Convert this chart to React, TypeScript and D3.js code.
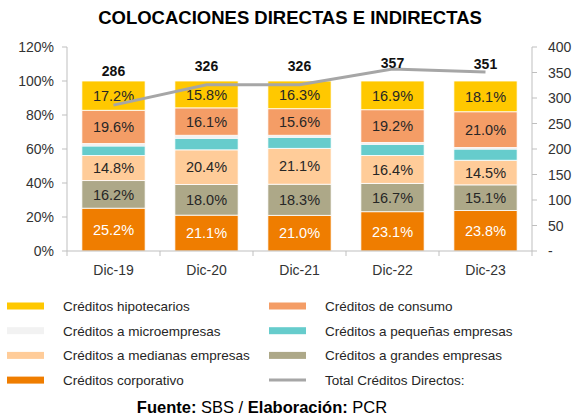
import React from "react";
import * as d3 from "d3";

// valores (% de la cartera total)
const categories = ["Dic-19", "Dic-20", "Dic-21", "Dic-22", "Dic-23"];
const corporativo = [25.2, 21.1, 21.0, 23.1, 23.8];
const grandes = [16.2, 18.0, 18.3, 16.7, 15.1];
const medianas = [14.8, 20.4, 21.1, 16.4, 14.5];
const pequenas = [5.5, 6.7, 6.4, 6.4, 6.5];
const micro = [1.5, 1.9, 1.3, 1.3, 1.0];
const consumo = [19.6, 16.1, 15.6, 19.2, 21.0];
const hipotecarios = [17.2, 15.8, 16.3, 16.9, 18.1];
const totalDirectos = [286, 326, 326, 357, 351];

const leftTicks = [0, 20, 40, 60, 80, 100, 120];
const rightTicks = [0, 50, 100, 150, 200, 250, 300, 350, 400];

const series = [
  { key: "corporativo", name: "Créditos corporativo", values: corporativo, color: "#EF7D00", text: "#ffffff", label: true },
  { key: "grandes", name: "Créditos a grandes empresas", values: grandes, color: "#ADA888", text: "#262626", label: true },
  { key: "medianas", name: "Créditos a medianas empresas", values: medianas, color: "#FFCC99", text: "#262626", label: true },
  { key: "pequenas", name: "Créditos a pequeñas empresas", values: pequenas, color: "#66CCCC", text: "#262626", label: false },
  { key: "micro", name: "Créditos a microempresas", values: micro, color: "#F2F2F2", text: "#262626", label: false },
  { key: "consumo", name: "Créditos de consumo", values: consumo, color: "#F49D66", text: "#262626", label: true },
  { key: "hipotecarios", name: "Créditos hipotecarios", values: hipotecarios, color: "#FFC800", text: "#262626", label: true },
];

const legendRows = [
  ["hipotecarios", "consumo"],
  ["micro", "pequenas"],
  ["medianas", "grandes"],
  ["corporativo", "total"],
];

const W = 580;
const H = 418;
const font = "'Liberation Sans', Arial, sans-serif";
const axisColor = "#BFBFBF";
const lineColor = "#A6A6A6";

const App = () => {
  const left = 67;
  const right = 532;
  const top = 47;
  const bottom = 251;

  const rows = categories.map((c, i) => {
    const r: any = { cat: c };
    series.forEach((s) => (r[s.key] = s.values[i]));
    return r;
  });
  const stacked = d3.stack().keys(series.map((s) => s.key))(rows);

  const x = d3.scaleBand().domain(categories).range([left, right]).paddingInner(0.32).paddingOuter(0.16);
  const y = d3.scaleLinear().domain([0, 120]).range([bottom, top]);
  const y2 = d3.scaleLinear().domain([0, 400]).range([bottom, top]);
  // etiquetas del total, ubicadas sobre las barras
  const yLabel = d3.scaleLinear().domain([0, 400]).range([103, 58]);

  const cx = (c: string) => (x(c) as number) + x.bandwidth() / 2;
  const line = d3
    .line<number>()
    .x((_, i) => cx(categories[i]))
    .y((d) => y2(d));

  const fmt = d3.format(".1f");
  const step = x.step();

  return (
    <svg width={W} height={H} style={{ position: "absolute", left: 0, top: 0, background: "#fff" }} fontFamily={font}>
      <text x={W / 2} y={24} textAnchor="middle" fontSize={18.5} fontWeight="bold" fill="#000">
        COLOCACIONES DIRECTAS E INDIRECTAS
      </text>

      {/* barras apiladas */}
      {stacked.map((layer, li) => {
        const s = series[li];
        return (
          <g key={s.key}>
            {layer.map((d, i) => (
              <rect
                key={i}
                x={x(categories[i])}
                y={y(d[1])}
                width={x.bandwidth()}
                height={y(d[0]) - y(d[1])}
                fill={s.color}
                stroke="#fff"
                strokeWidth={s.key === "micro" ? 0 : 0.8}
              />
            ))}
            {s.label &&
              layer.map((d, i) => (
                <text
                  key={"t" + i}
                  x={cx(categories[i])}
                  y={(y(d[0]) + y(d[1])) / 2}
                  dy="0.36em"
                  textAnchor="middle"
                  fontSize={14.5}
                  fill={s.text}
                >
                  {fmt(s.values[i])}%
                </text>
              ))}
          </g>
        );
      })}

      {/* eje izquierdo */}
      <line x1={left} x2={left} y1={top} y2={bottom} stroke={axisColor} />
      {leftTicks.map((t) => (
        <g key={t}>
          <line x1={left - 5} x2={left} y1={y(t)} y2={y(t)} stroke={axisColor} />
          <text x={54} y={y(t)} dy="0.36em" textAnchor="end" fontSize={14} fill="#333">
            {t}%
          </text>
        </g>
      ))}

      {/* eje derecho */}
      <line x1={right} x2={right} y1={top} y2={bottom} stroke={axisColor} />
      {rightTicks.map((t) => (
        <g key={t}>
          <line x1={right} x2={right + 5} y1={y2(t)} y2={y2(t)} stroke={axisColor} />
          <text x={548} y={y2(t)} dy="0.36em" textAnchor="start" fontSize={14} fill="#333">
            {t === 0 ? "-" : t}
          </text>
        </g>
      ))}

      {/* eje x */}
      <line x1={left} x2={right} y1={bottom} y2={bottom} stroke={axisColor} />
      {d3.range(categories.length + 1).map((k) => (
        <line key={k} x1={left + k * step} x2={left + k * step} y1={bottom} y2={bottom + 5} stroke={axisColor} />
      ))}
      {categories.map((c) => (
        <text key={c} x={cx(c)} y={270} dy="0.36em" textAnchor="middle" fontSize={14} fill="#333">
          {c}
        </text>
      ))}

      {/* total créditos directos */}
      <path d={line(totalDirectos) || ""} fill="none" stroke={lineColor} strokeWidth={3} />
      {totalDirectos.map((v, i) => (
        <text
          key={i}
          x={cx(categories[i])}
          y={yLabel(v)}
          dy="0.36em"
          textAnchor="middle"
          fontSize={14}
          fontWeight="bold"
          fill="#111"
        >
          {v}
        </text>
      ))}

      {/* leyenda */}
      {legendRows.map((row, r) =>
        row.map((key, c) => {
          const ly = 306 + r * 24.7;
          const sx = c === 0 ? 7 : 269;
          const tx = c === 0 ? 63 : 325;
          const s = series.find((d) => d.key === key);
          return (
            <g key={key}>
              {s ? (
                <rect x={sx} y={ly - 3.5} width={37} height={7} fill={s.color} />
              ) : (
                <line x1={sx} x2={sx + 37} y1={ly} y2={ly} stroke={lineColor} strokeWidth={3} />
              )}
              <text x={tx} y={ly} dy="0.36em" fontSize={13.5} fill="#262626">
                {s ? s.name : "Total Créditos Directos:"}
              </text>
            </g>
          );
        })
      )}

      <text x={262} y={407} dy="0.36em" textAnchor="middle" fontSize={16.5} fill="#000">
        <tspan fontWeight="bold">Fuente:</tspan> SBS / <tspan fontWeight="bold">Elaboración:</tspan> PCR
      </text>
    </svg>
  );
};

export default App;
